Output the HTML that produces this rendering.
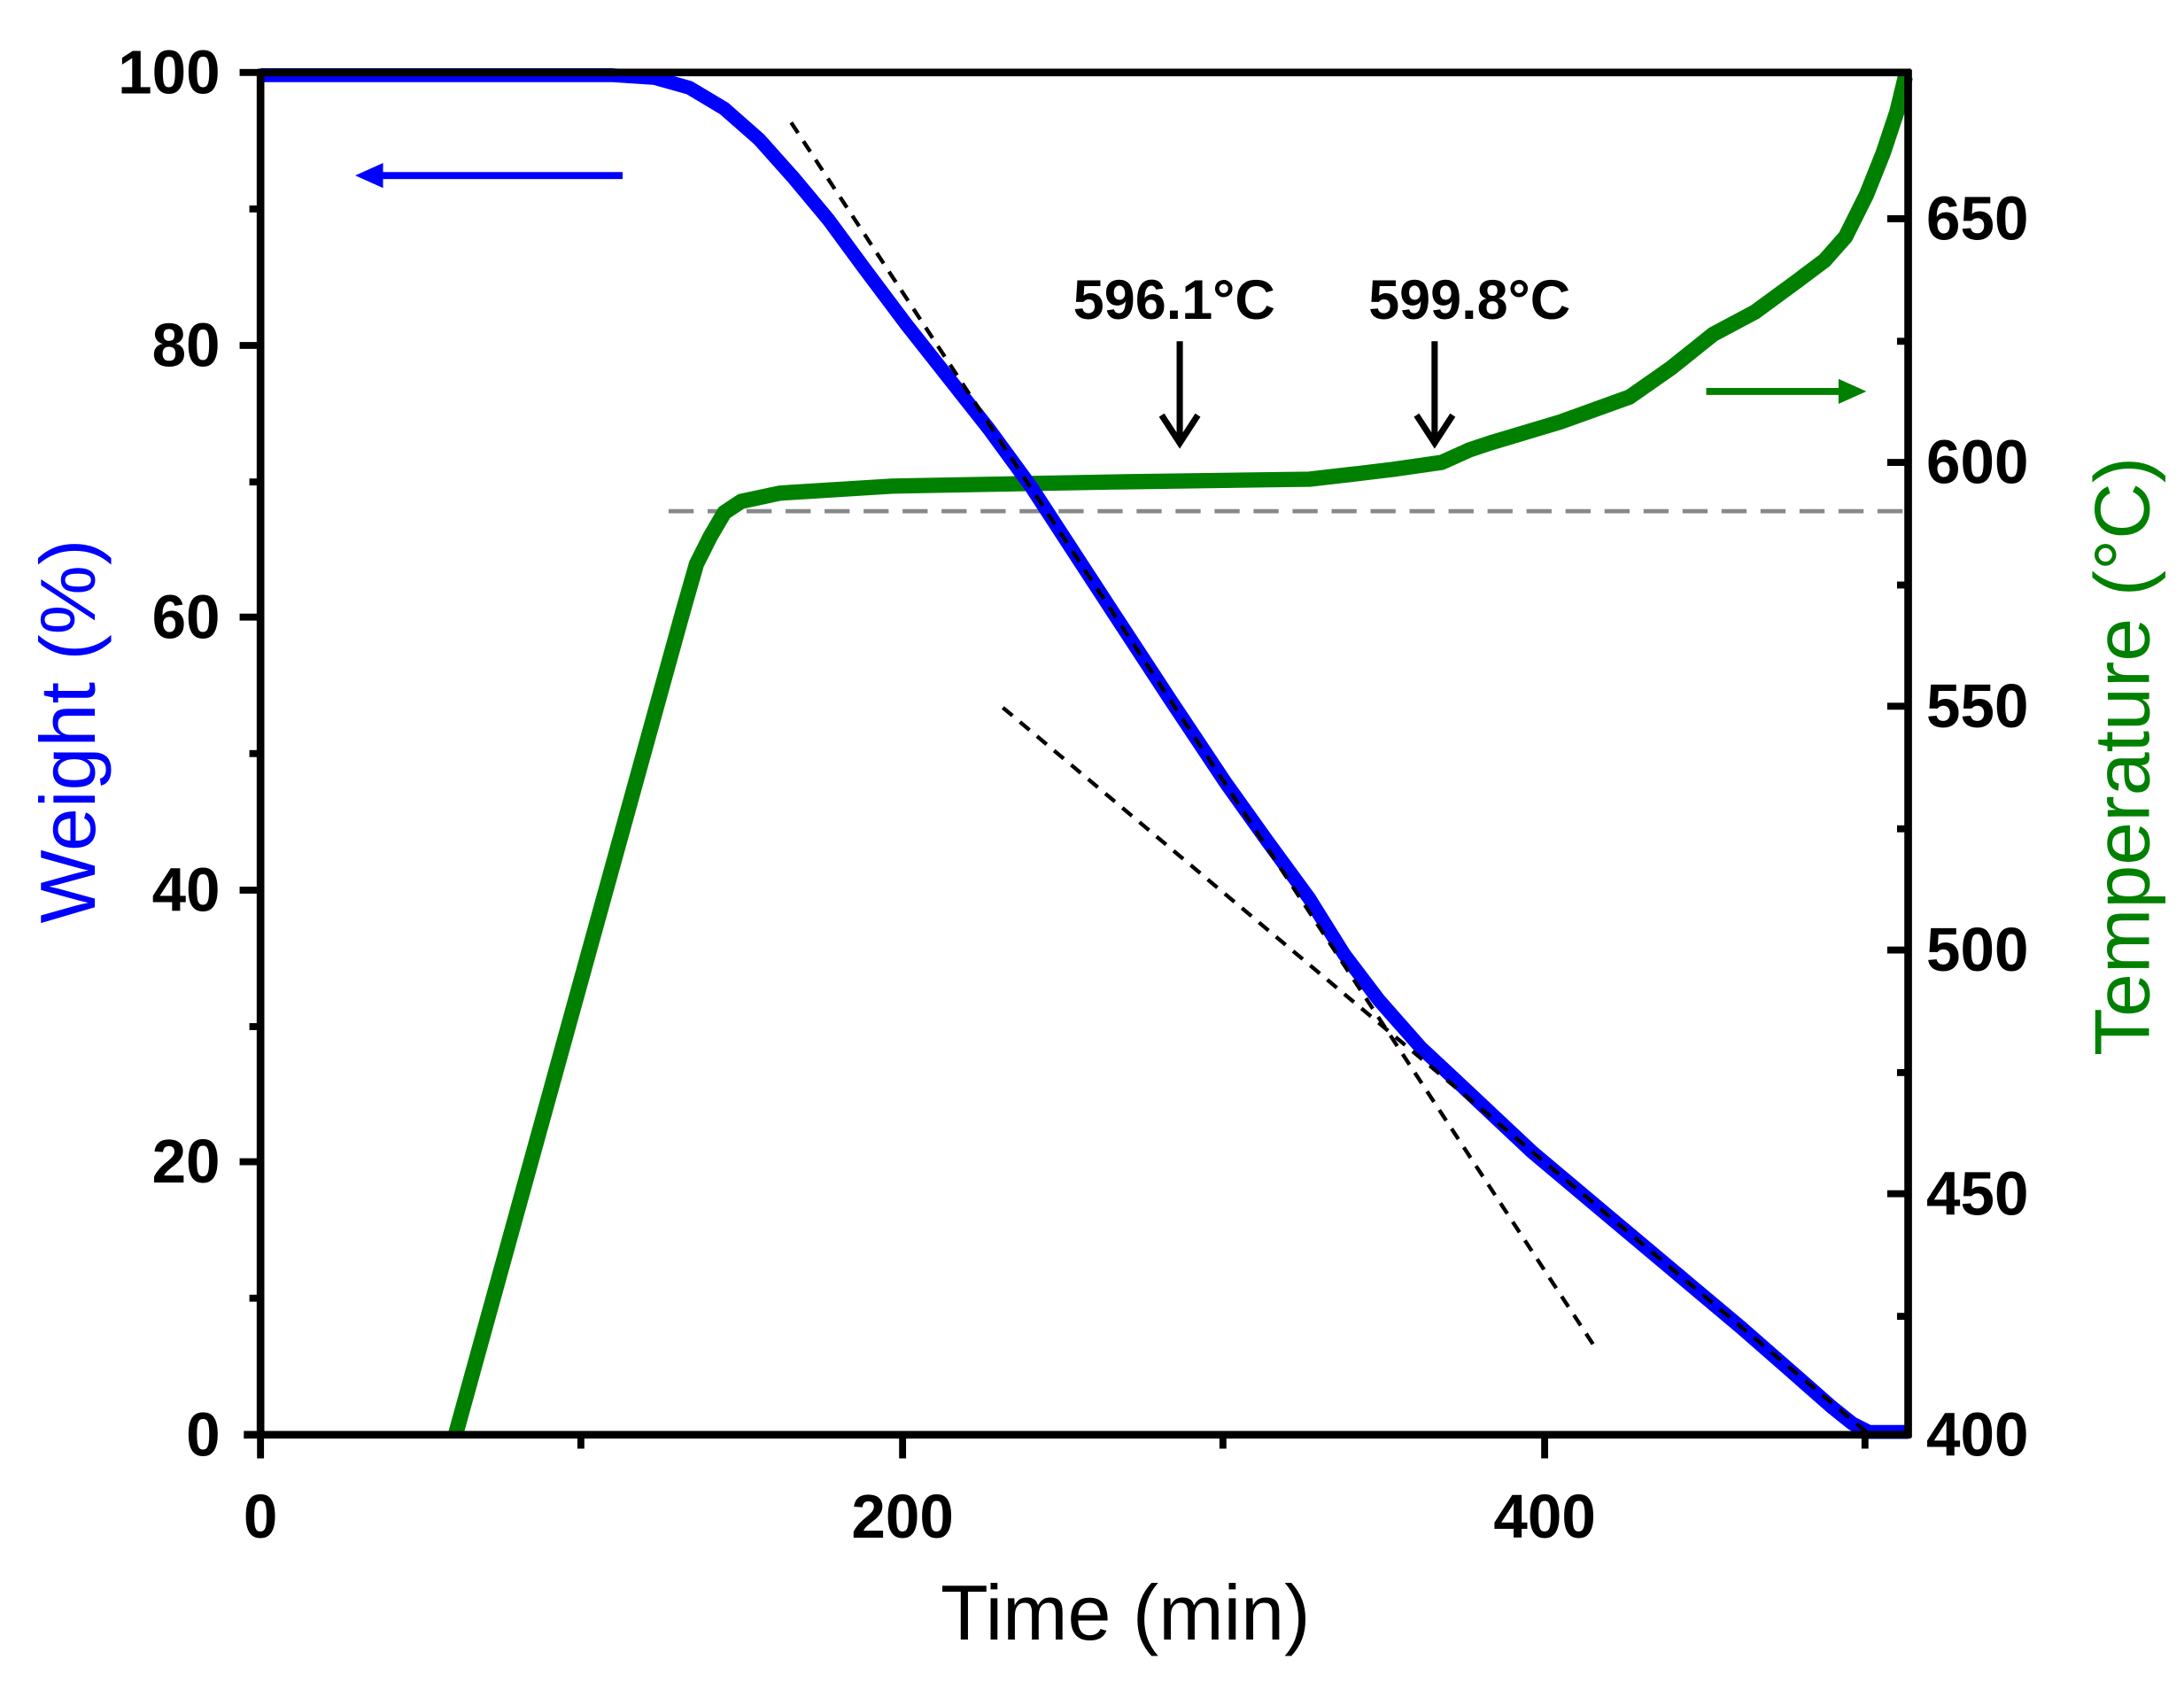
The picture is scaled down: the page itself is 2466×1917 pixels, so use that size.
<!DOCTYPE html>
<html><head><style>html,body{margin:0;padding:0;background:#fff}svg{display:block}</style></head>
<body>
<svg width="2466" height="1917" viewBox="0 0 1568 1219" xmlns="http://www.w3.org/2000/svg" font-family="'Liberation Sans', Arial, sans-serif">
<rect width="1568" height="1219" fill="#fff"/>
<line x1="480" y1="367" x2="1370" y2="367" stroke="#888" stroke-width="3" stroke-dasharray="18,10"/>
<polyline fill="none" stroke="#008000" stroke-width="11" stroke-linejoin="round" points="327,1030 490,440 500,405 510,385 520,368 532,360 560,354 640,349 800,346 940,344 975,340 1000,337 1035,332 1055,323 1070,318 1120,303 1170,285 1200,264 1230,240 1260,224 1290,202 1310,187 1325,170 1340,140 1352,110 1362,80 1368,55"/>
<polyline fill="none" stroke="#0000ff" stroke-width="10" stroke-linejoin="round" points="187,54 440,54 470,56 495,63 520,78 545,100 570,128 595,158 620,192 650,232 680,270 710,308 740,349 770,395 800,441 840,502 880,562 910,604 940,645 965,685 990,718 1020,752 1050,780 1100,827 1150,869 1200,911 1250,953 1290,988 1315,1010 1330,1022 1342,1028 1370,1028"/>
<line x1="568" y1="88" x2="1147" y2="970" stroke="#000" stroke-width="2.8" stroke-dasharray="9,7"/>
<line x1="720" y1="508" x2="1340" y2="1028" stroke="#000" stroke-width="2.8" stroke-dasharray="9,7"/>
<g stroke="#000" stroke-width="5.5" fill="none">
<line x1="187" y1="52" x2="187" y2="1030"/>
<line x1="1370" y1="50" x2="1370" y2="1032"/>
<line x1="175" y1="1030" x2="1372" y2="1030"/>
<line x1="185" y1="52" x2="1372" y2="52"/>
</g>
<g stroke="#000" stroke-width="5">
<line x1="172" y1="52" x2="187" y2="52"/><line x1="172" y1="248" x2="187" y2="248"/><line x1="172" y1="443" x2="187" y2="443"/><line x1="172" y1="639" x2="187" y2="639"/><line x1="172" y1="834" x2="187" y2="834"/>
<line x1="179" y1="150" x2="187" y2="150"/><line x1="179" y1="346" x2="187" y2="346"/><line x1="179" y1="541" x2="187" y2="541"/><line x1="179" y1="737" x2="187" y2="737"/><line x1="179" y1="932" x2="187" y2="932"/>
<line x1="187" y1="1030" x2="187" y2="1047"/><line x1="648" y1="1030" x2="648" y2="1047"/><line x1="1109" y1="1030" x2="1109" y2="1047"/>
<line x1="417" y1="1030" x2="417" y2="1040"/><line x1="878" y1="1030" x2="878" y2="1040"/><line x1="1339" y1="1030" x2="1339" y2="1040"/>
<line x1="1355" y1="157" x2="1370" y2="157"/><line x1="1355" y1="332" x2="1370" y2="332"/><line x1="1355" y1="507" x2="1370" y2="507"/><line x1="1355" y1="682" x2="1370" y2="682"/><line x1="1355" y1="857" x2="1370" y2="857"/>
<line x1="1362" y1="245" x2="1370" y2="245"/><line x1="1362" y1="420" x2="1370" y2="420"/><line x1="1362" y1="595" x2="1370" y2="595"/><line x1="1362" y1="770" x2="1370" y2="770"/><line x1="1362" y1="945" x2="1370" y2="945"/>
</g>
<g font-weight="bold" font-size="44" fill="#000">
<g text-anchor="end">
<text x="158" y="67">100</text><text x="158" y="263">80</text><text x="158" y="458">60</text><text x="158" y="654">40</text><text x="158" y="849">20</text><text x="158" y="1045">0</text>
</g>
<g text-anchor="middle">
<text x="187" y="1104">0</text><text x="648" y="1104">200</text><text x="1109" y="1104">400</text>
</g>
<text x="1383" y="172">650</text><text x="1383" y="347">600</text><text x="1383" y="522">550</text><text x="1383" y="697">500</text><text x="1383" y="872">450</text><text x="1383" y="1045">400</text>
</g>
<text x="808" y="1177" text-anchor="middle" font-size="56">Time (min)</text>
<text transform="translate(68,525) rotate(-90)" text-anchor="middle" font-size="56" fill="#0000ff">Weight (%)</text>
<text transform="translate(1543,543) rotate(-90)" text-anchor="middle" font-size="56" fill="#008000">Temperature (°C)</text>
<g font-weight="bold" font-size="40" fill="#000" text-anchor="middle">
<text x="843" y="229">596.1°C</text><text x="1055" y="229">599.8°C</text>
</g>
<g stroke="#000" stroke-width="4.5" fill="none">
<line x1="847" y1="245" x2="847" y2="315"/><polyline points="834,298 847,318 860,298"/>
<line x1="1030" y1="245" x2="1030" y2="315"/><polyline points="1017,298 1030,318 1043,298"/>
</g>
<line x1="270" y1="126" x2="447" y2="126" stroke="#0000ff" stroke-width="5"/>
<polygon points="255,126 275,117 275,135" fill="#0000ff"/>
<line x1="1225" y1="281" x2="1325" y2="281" stroke="#008000" stroke-width="5"/>
<polygon points="1340,281 1320,272 1320,290" fill="#008000"/>
</svg>
</body></html>
